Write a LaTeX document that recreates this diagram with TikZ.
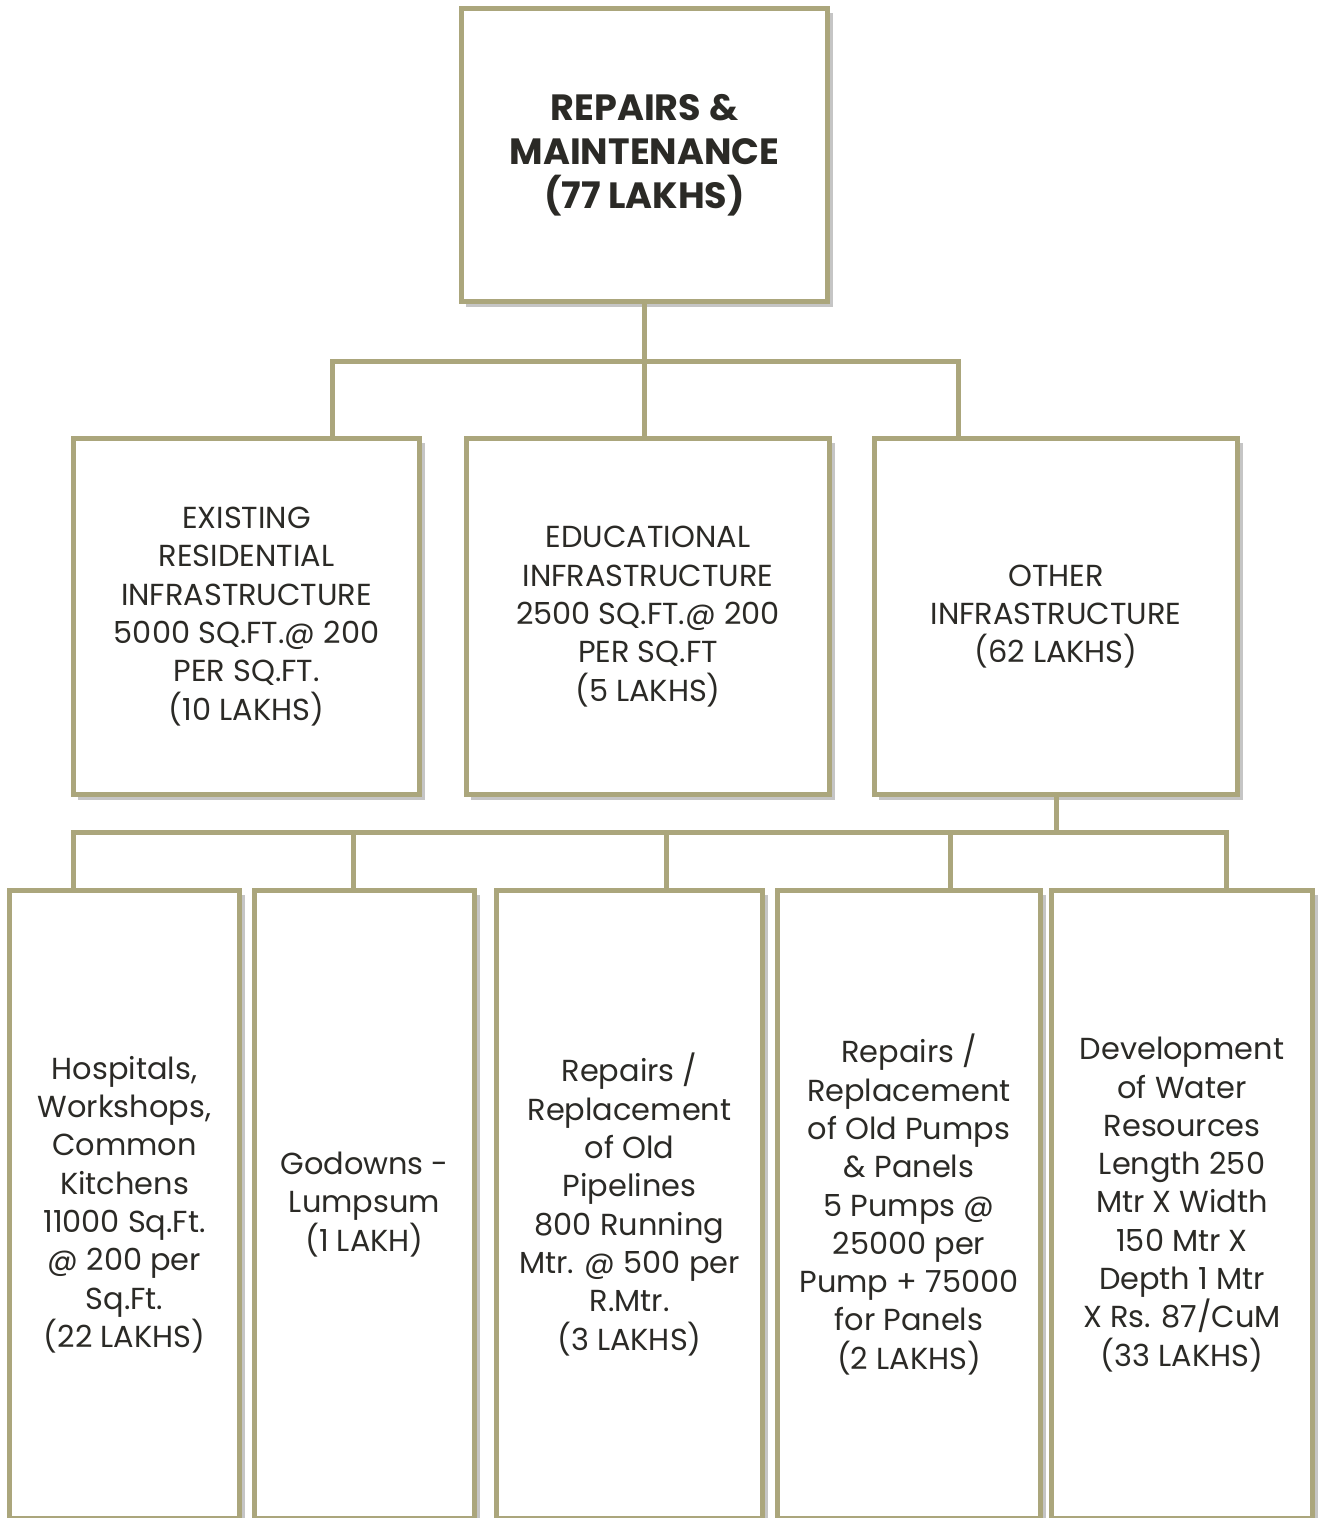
\documentclass[tikz,border=0pt]{standalone}
\usepackage{fontspec}
\setmainfont{Poppins}
\usepackage{tikz}
\usetikzlibrary{shadows}

\definecolor{olive}{HTML}{ABA67C}
\definecolor{ink}{HTML}{2B2A26}

\begin{document}
\begin{tikzpicture}[x=0.02cm,y=-0.02cm,
    box/.style={draw=olive,line width=0.1cm,fill=white,text=ink,align=center,
      drop shadow={shadow xshift=3pt,shadow yshift=-3pt,fill=black!45,opacity=0.5},
      font=\fontsize{17.3}{21.8}\selectfont},
    topbox/.style={box,minimum width=7.34cm,minimum height=5.88cm,
      font=\bfseries\fontsize{20.8}{25}\selectfont},
    midbox/.style={box,minimum width=7.28cm,minimum height=7.14cm},
    lowbox/.style={box,minimum height=12.58cm},
    link/.style={draw=olive,line width=0.1cm}]
  \useasboundingbox (0,0) rectangle (1321,1518);
  \node[topbox] (rm) at (644.5,155) {REPAIRS \&\\MAINTENANCE\\(77 LAKHS)};
  \node[midbox,minimum width=6.94cm] (res) at (246.5,616.5)
    {EXISTING\\RESIDENTIAL\\INFRASTRUCTURE\\5000 SQ.FT.@ 200\\PER SQ.FT.\\(10 LAKHS)};
  \node[midbox] (edu) at (648,616.5)
    {EDUCATIONAL\\INFRASTRUCTURE\\2500 SQ.FT.@ 200\\PER SQ.FT\\(5 LAKHS)};
  \node[midbox] (oth) at (1056,616.5) {OTHER\\INFRASTRUCTURE\\(62 LAKHS)};
  \node[lowbox,minimum width=4.62cm] (hosp) at (124.5,1204.5)
    {Hospitals,\\Workshops,\\Common\\Kitchens\\11000 Sq.Ft.\\@ 200 per\\Sq.Ft.\\(22 LAKHS)};
  \node[lowbox,minimum width=4.42cm] (god) at (364.5,1204.5) {Godowns -\\Lumpsum\\(1 LAKH)};
  \node[lowbox,minimum width=5.34cm] (pipe) at (629.5,1204.5)
    {Repairs /\\Replacement\\of Old\\Pipelines\\800 Running\\Mtr. @ 500 per\\R.Mtr.\\(3 LAKHS)};
  \node[lowbox,minimum width=5.28cm] (pump) at (909,1204.5)
    {Repairs /\\Replacement\\of Old Pumps\\\& Panels\\5 Pumps @\\25000 per\\Pump + 75000\\for Panels\\(2 LAKHS)};
  \node[lowbox,minimum width=5.24cm] (water) at (1182,1204.5)
    {Development\\of Water\\Resources\\Length 250\\Mtr X Width\\150 Mtr X\\Depth 1 Mtr\\X Rs. 87/CuM\\(33 LAKHS)};

  % first level
  \coordinate (j1) at (332,361);
  \coordinate (j2) at (958,361);
  \draw[link] (rm.south) -- (rm.south |- j1);
  \draw[link] (j1 |- res.north) -- (j1) -- (j2) -- (j2 |- oth.north);
  \draw[link] (rm.south |- j1) -- (edu.north -| rm.south);

  % second level
  \coordinate (k1) at (73,832);
  \coordinate (k2) at (353,832);
  \coordinate (k3) at (666,832);
  \coordinate (k4) at (950,832);
  \coordinate (k5) at (1226,832);
  \draw[link] (oth.south) -- (oth.south |- k1);
  \draw[link] (k1 |- hosp.north) -- (k1) -- (k5) -- (k5 |- water.north);
  \foreach \k/\b in {k2/god,k3/pipe,k4/pump}
    \draw[link] (\k) -- (\k |- \b.north);
\end{tikzpicture}
\end{document}
